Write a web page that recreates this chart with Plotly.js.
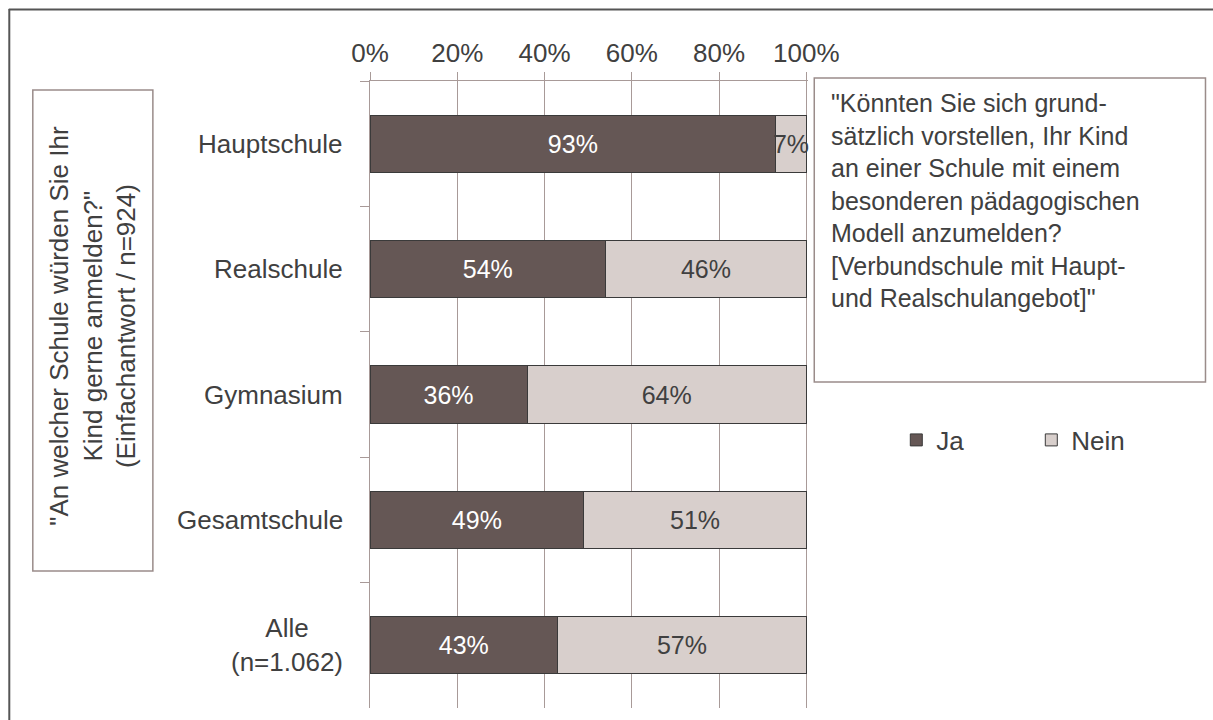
<!DOCTYPE html>
<html>
<head>
<meta charset="utf-8">
<script src="https://cdn.plot.ly/plotly-3.0.1.min.js"></script>
<style>html,body{margin:0;padding:0;background:#fff;}#chart{width:1213px;height:720px;}</style>
</head>
<body>
<div id="chart"></div>
<script>
const categories = ["Hauptschule", "Realschule", "Gymnasium", "Gesamtschule", "Alle"];
const categoryLabels = ["Hauptschule", "Realschule", "Gymnasium", "Gesamtschule", "Alle<br>(n=1.062)"];
const jaValues = [93, 54, 36, 49, 43];
const neinValues = [7, 46, 64, 51, 57];
const seriesNames = ["Ja", "Nein"];
const xTickValues = [0, 20, 40, 60, 80, 100];
const xTickLabels = ["0%", "20%", "40%", "60%", "80%", "100%"];
const leftBoxText = "\"An welcher Schule würden Sie Ihr<br>Kind gerne anmelden?\"<br>(Einfachantwort / n=924)";
const rightBoxText = "\"Könnten Sie sich grund-<br>sätzlich vorstellen, Ihr Kind<br>an einer Schule mit einem<br>besonderen pädagogischen<br>Modell anzumelden?<br>[Verbundschule mit Haupt-<br>und Realschulangebot]\"";

const W = 1213, H = 720;
const L = 370, R100 = 806, T = 81, B = 708;
const XMAX = 100.4;
const R = L + (R100 - L) * XMAX / 100;
const X = px => (px - L) / (R - L);
const Y = py => (B - py) / (B - T);
const FONT = "Liberation Sans, Arial, sans-serif";
const TXT = "#404040";
const GRID = "#a89a98";

const traces = [
  {
    type: "bar", orientation: "h", name: seriesNames[0],
    y: categories, x: jaValues,
    text: jaValues.map(v => v + "%"),
    textposition: "inside", insidetextanchor: "middle", textangle: 0,
    textfont: {color: "#ffffff", size: 25, family: FONT},
    marker: {color: "#655755", line: {color: "#3a3a3a", width: 1}},
    cliponaxis: false,
    hoverinfo: "none"
  },
  {
    type: "bar", orientation: "h", name: seriesNames[1],
    y: categories, x: neinValues,
    text: neinValues.map(v => v + "%"),
    textposition: "inside", insidetextanchor: "middle", textangle: 0,
    textfont: {color: TXT, size: 25, family: FONT},
    marker: {color: "#d8cfcc", line: {color: "#3a3a3a", width: 1}},
    cliponaxis: false,
    hoverinfo: "none"
  }
];

const annotations = categories.map((c, i) => ({
  xref: "paper", yref: "y", x: X(345), y: c,
  xanchor: "right", yanchor: "middle", align: "center",
  text: categoryLabels[i], showarrow: false,
  font: {size: 26, color: TXT, family: FONT}
}));

annotations.push({
  xref: "paper", yref: "paper", x: X(93), y: Y(326),
  xanchor: "center", yanchor: "middle", align: "center", textangle: -90,
  text: leftBoxText, showarrow: false,
  font: {size: 26, color: TXT, family: FONT}
});
annotations.push({
  xref: "paper", yref: "paper", x: X(829), y: Y(87),
  xanchor: "left", yanchor: "top", align: "left",
  text: rightBoxText, showarrow: false,
  font: {size: 25, color: TXT, family: FONT}
});

const shapes = [
  {type: "rect", xref: "paper", yref: "paper", x0: X(33), x1: X(153), y0: Y(90), y1: Y(571),
   line: {color: "#9a8c8a", width: 1.5}, fillcolor: "rgba(0,0,0,0)"},
  {type: "rect", xref: "paper", yref: "paper", x0: X(814), x1: X(1205), y0: Y(78), y1: Y(382),
   line: {color: "#9a8c8a", width: 1.5}, fillcolor: "rgba(0,0,0,0)"},
  {type: "line", xref: "paper", yref: "paper", x0: X(9), x1: X(1213), y0: Y(9.5), y1: Y(9.5),
   line: {color: "#555555", width: 2}},
  {type: "line", xref: "paper", yref: "paper", x0: X(9.5), x1: X(9.5), y0: Y(9), y1: Y(720),
   line: {color: "#555555", width: 2}}
];

const layout = {
  width: W, height: H,
  margin: {l: L, r: W - R, t: T, b: H - B, pad: 0, autoexpand: false},
  paper_bgcolor: "#ffffff", plot_bgcolor: "#ffffff",
  barmode: "stack", bargap: 0.545,
  showlegend: true,
  font: {family: FONT, color: TXT, size: 24},
  uniformtext: {minsize: 25, mode: "show"},
  xaxis: {
    side: "top", range: [0, XMAX], tickvals: xTickValues, ticktext: xTickLabels,
    showgrid: true, gridcolor: GRID, gridwidth: 1,
    ticks: "outside", ticklen: 8, tickcolor: GRID, tickwidth: 1,
    showline: true, linecolor: GRID, linewidth: 1,
    zeroline: false, fixedrange: true,
    tickfont: {size: 26, color: TXT, family: FONT}
  },
  yaxis: {
    type: "category", categoryorder: "array", categoryarray: categories,
    autorange: "reversed",
    showticklabels: false, showgrid: false, zeroline: false,
    showline: true, linecolor: GRID, linewidth: 1,
    ticks: "outside", tickson: "boundaries", ticklen: 9, tickcolor: GRID, tickwidth: 1,
    fixedrange: true
  },
  legend: {
    orientation: "h", x: X(896), y: Y(440), xanchor: "left", yanchor: "middle",
    entrywidth: 90, entrywidthmode: "pixels",
    font: {size: 26, color: TXT, family: FONT},
    bgcolor: "rgba(0,0,0,0)", traceorder: "normal"
  },
  annotations: annotations,
  shapes: shapes
};

Plotly.newPlot("chart", traces, layout, {displayModeBar: false, staticPlot: true});
</script>
</body>
</html>
